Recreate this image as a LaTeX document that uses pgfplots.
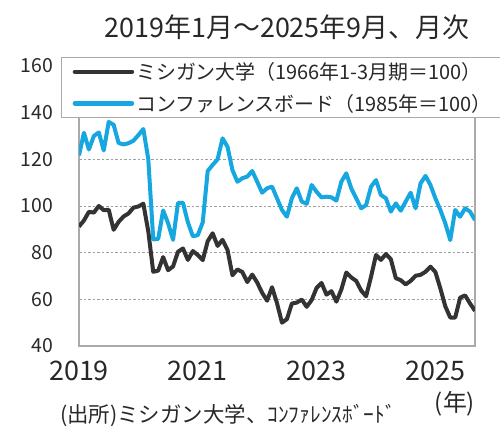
\documentclass[border=0pt]{standalone}
\usepackage{fontspec}
\setmainfont{Noto Sans CJK JP}
\newfontfamily\jp{Noto Sans CJK JP}
\usepackage{pgfplots}
\pgfplotsset{compat=1.18}
\usepackage{pgfplotstable}
\definecolor{mich}{RGB}{51,51,51}
\definecolor{cbblue}{RGB}{22,167,224}
\definecolor{frame}{RGB}{170,170,170}
\definecolor{txt}{RGB}{40,40,40}
\pgfplotstableread{
m mich cb
0 91.2 121.7
1 93.8 131.4
2 97.5 124.2
3 97.2 130.0
4 100.0 131.5
5 98.2 123.8
6 98.4 136.0
7 89.8 134.8
8 93.2 127.0
9 95.5 126.4
10 96.8 126.9
11 99.3 128.0
12 99.8 130.4
13 101.0 133.0
14 89.1 120.0
15 71.8 85.7
16 72.3 85.9
17 78.1 98.1
18 72.5 92.6
19 74.1 85.5
20 80.4 101.3
21 81.8 101.4
22 76.9 93.0
23 80.7 87.0
24 79.0 87.5
25 76.8 93.0
26 84.9 115.0
27 88.3 117.6
28 82.9 120.0
29 85.5 129.0
30 81.2 125.4
31 70.3 115.4
32 72.8 110.4
33 71.7 111.9
34 67.4 112.6
35 70.6 115.0
36 67.2 110.4
37 62.8 105.7
38 59.4 107.6
39 65.2 108.3
40 58.4 103.3
41 50.0 98.3
42 51.5 95.4
43 58.2 103.3
44 58.6 107.6
45 59.9 101.9
46 56.8 100.9
47 59.7 109.0
48 64.9 106.1
49 67.0 103.7
50 62.0 104.0
51 63.5 103.7
52 59.0 102.3
53 64.2 110.4
54 71.5 114.0
55 69.4 107.6
56 67.9 103.3
57 63.8 99.0
58 61.3 100.4
59 69.7 108.3
60 79.0 111.1
61 76.9 104.7
62 79.4 103.3
63 77.2 97.6
64 69.1 101.1
65 68.2 98.0
66 66.4 101.9
67 67.9 105.7
68 70.1 99.0
69 70.5 109.7
70 71.8 112.9
71 74.0 109.0
72 71.7 103.3
73 64.7 98.3
74 57.0 92.6
75 52.2 85.4
76 52.2 98.3
77 60.7 95.4
78 61.7 99.0
79 58.2 97.6
80 55.1 94.0
}\datatable
\begin{document}
\begin{tikzpicture}
\useasboundingbox (0,0) rectangle (500bp,439bp);
\begin{axis}[
  at={(79bp,93bp)}, anchor=south west,
  width=396bp, height=280bp, scale only axis,
  xmin=0, xmax=80, ymin=40, ymax=160,
  xtick={0,24,48,72}, xticklabels={2019,2021,2023,2025},
  ytick={40,60,80,100,120,140,160},
  major tick length=0pt,
  axis line style={draw=frame, line width=1.2bp},
  ymajorgrids,
  grid style={draw=gray!75, line width=0.9bp, dash pattern=on 2.5bp off 2bp},
  /pgf/number format/assume math mode=true,
  yticklabel style={font=\jp\fontsize{19.5}{19.5}\selectfont, text=txt, inner sep=0pt, anchor=east, xshift=-26bp},
  xticklabel style={font=\jp\fontsize{27}{27}\selectfont, text=txt, inner sep=0pt, anchor=north, yshift=-15bp},
  legend cell align=left,
  legend style={at={(rel axis cs:-0.045,1.032)}, anchor=north west,
    draw=frame, line width=1bp, fill=white,
    inner xsep=11bp, inner ysep=3bp,
    font=\jp\fontsize{20}{20}\selectfont,
    row sep=9bp},
  legend image code/.code={\draw[line width=4.5bp, line cap=round] (0bp,0bp) -- (57bp,0bp);},
]
\addplot[mich, line width=4bp, line join=round] table[x=m, y=mich] {\datatable};
\addlegendentry{\color{txt}ミシガン大学（1966年1-3月期＝100）}
\addplot[cbblue, line width=4bp, line join=round] table[x=m, y=cb] {\datatable};
\addlegendentry{\color{txt}コンファレンスボード（1985年＝100）}
\end{axis}
\node[text=txt, font=\jp\fontsize{27}{27}\selectfont] at (287bp,412bp) {2019年1月～2025年9月、月次};
\node[text=txt, font=\jp\fontsize{24}{24}\selectfont] at (455bp,35bp) {(年)};
\node[text=txt, font=\jp\fontsize{21.5}{21.5}\selectfont, anchor=west, inner sep=0pt] at (60bp,24bp) {(出所)ミシガン大学、ｺﾝﾌｧﾚﾝｽﾎﾞｰﾄﾞ};
\end{tikzpicture}
\end{document}
